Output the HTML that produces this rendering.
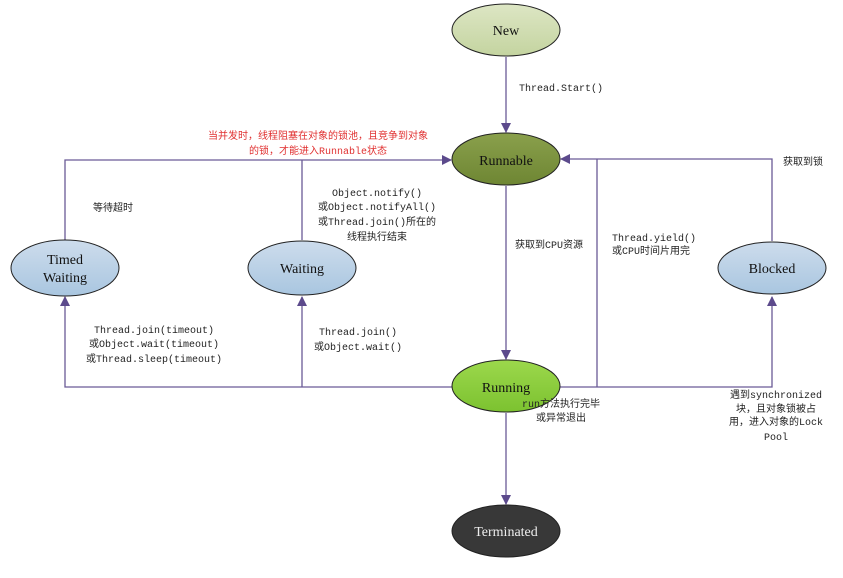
<!DOCTYPE html>
<html><head><meta charset="utf-8"><style>body{margin:0;background:#fff}</style></head><body>
<svg width="843" height="573" xmlns="http://www.w3.org/2000/svg">
<defs>
<marker id="a" markerWidth="10" markerHeight="10" refX="9" refY="5" orient="auto" markerUnits="userSpaceOnUse"><path d="M0,0 L10,5 L0,10 Z" fill="#5c4a8c"/></marker>
<linearGradient id="gb" x1="0" y1="0" x2="0" y2="1"><stop offset="0" stop-color="#cddcec"/><stop offset="1" stop-color="#a9c6e0"/></linearGradient>
<linearGradient id="gn" x1="0" y1="0" x2="0" y2="1"><stop offset="0" stop-color="#dde6c4"/><stop offset="1" stop-color="#c4d4a0"/></linearGradient>
<linearGradient id="gr" x1="0" y1="0" x2="0" y2="1"><stop offset="0" stop-color="#8aa04c"/><stop offset="1" stop-color="#6e8633"/></linearGradient>
<linearGradient id="gg" x1="0" y1="0" x2="0" y2="1"><stop offset="0" stop-color="#9cd84c"/><stop offset="1" stop-color="#7cc230"/></linearGradient>
</defs>
<g stroke="#6a5a96" stroke-width="1.3" fill="none">
<line x1="506" y1="57" x2="506" y2="132" marker-end="url(#a)"/>
<line x1="506" y1="186" x2="506" y2="359" marker-end="url(#a)"/>
<line x1="506" y1="413" x2="506" y2="504" marker-end="url(#a)"/>
<polyline points="65,240 65,160 451,160" marker-end="url(#a)"/>
<line x1="302" y1="240" x2="302" y2="160"/>
<polyline points="452,387 65,387 65,297" marker-end="url(#a)"/>
<line x1="302" y1="387" x2="302" y2="297" marker-end="url(#a)"/>
<polyline points="772,241 772,146 561,146" marker-end="url(#a)" transform="translate(0,0)" opacity="0"/>
<polyline points="772,241 772,159 561,159" marker-end="url(#a)"/>
<polyline points="597,159 597,387"/>
<polyline points="560,387 772,387 772,297" marker-end="url(#a)"/>
</g>
<g stroke="#222" stroke-width="1">
<ellipse cx="506" cy="30" rx="54" ry="26" fill="url(#gn)"/>
<ellipse cx="506" cy="159" rx="54" ry="26" fill="url(#gr)"/>
<ellipse cx="506" cy="386" rx="54" ry="26" fill="url(#gg)"/>
<ellipse cx="506" cy="531" rx="54" ry="26" fill="#383838"/>
<ellipse cx="65" cy="268" rx="54" ry="28" fill="url(#gb)"/>
<ellipse cx="302" cy="268" rx="54" ry="27" fill="url(#gb)"/>
<ellipse cx="772" cy="268" rx="54" ry="26" fill="url(#gb)"/>
</g>
<g font-family="Liberation Serif, serif" font-size="14" text-anchor="middle" fill="#111">
<text x="506" y="35">New</text>
<text x="506" y="165">Runnable</text>
<text x="506" y="392">Running</text>
<text x="506" y="536" fill="#eee">Terminated</text>
<text x="65" y="264">Timed</text>
<text x="65" y="282">Waiting</text>
<text x="302" y="273">Waiting</text>
<text x="772" y="273">Blocked</text>
</g>
<g font-family="Liberation Mono, 'Noto Sans CJK SC', monospace" font-size="10" fill="#222">
<text x="519" y="91">Thread.Start()</text>
<text x="515" y="248">获取到CPU资源</text>
<text x="612" y="241">Thread.yield()</text>
<text x="612" y="254">或CPU时间片用完</text>
<text x="783" y="165">获取到锁</text>
<text x="93" y="211">等待超时</text>
<g text-anchor="middle">
<text x="564" y="144" fill="#e03030" font-size="10.5"> </text>
<text x="318" y="139" fill="#e03030">当并发时，线程阻塞在对象的锁池，且竞争到对象</text>
<text x="318" y="154" fill="#e03030">的锁，才能进入Runnable状态</text>
<text x="377" y="196">Object.notify()</text>
<text x="377" y="210">或Object.notifyAll()</text>
<text x="377" y="225">或Thread.join()所在的</text>
<text x="377" y="240">线程执行结束</text>
<text x="154" y="333">Thread.join(timeout)</text>
<text x="154" y="347">或Object.wait(timeout)</text>
<text x="154" y="362">或Thread.sleep(timeout)</text>
<text x="358" y="335">Thread.join()</text>
<text x="358" y="350">或Object.wait()</text>
<text x="561" y="407">run方法执行完毕</text>
<text x="561" y="421">或异常退出</text>
<text x="776" y="398">遇到synchronized</text>
<text x="776" y="412">块，且对象锁被占</text>
<text x="776" y="425">用，进入对象的Lock</text>
<text x="776" y="440">Pool</text>
</g>
</g>
</svg>
</body></html>
